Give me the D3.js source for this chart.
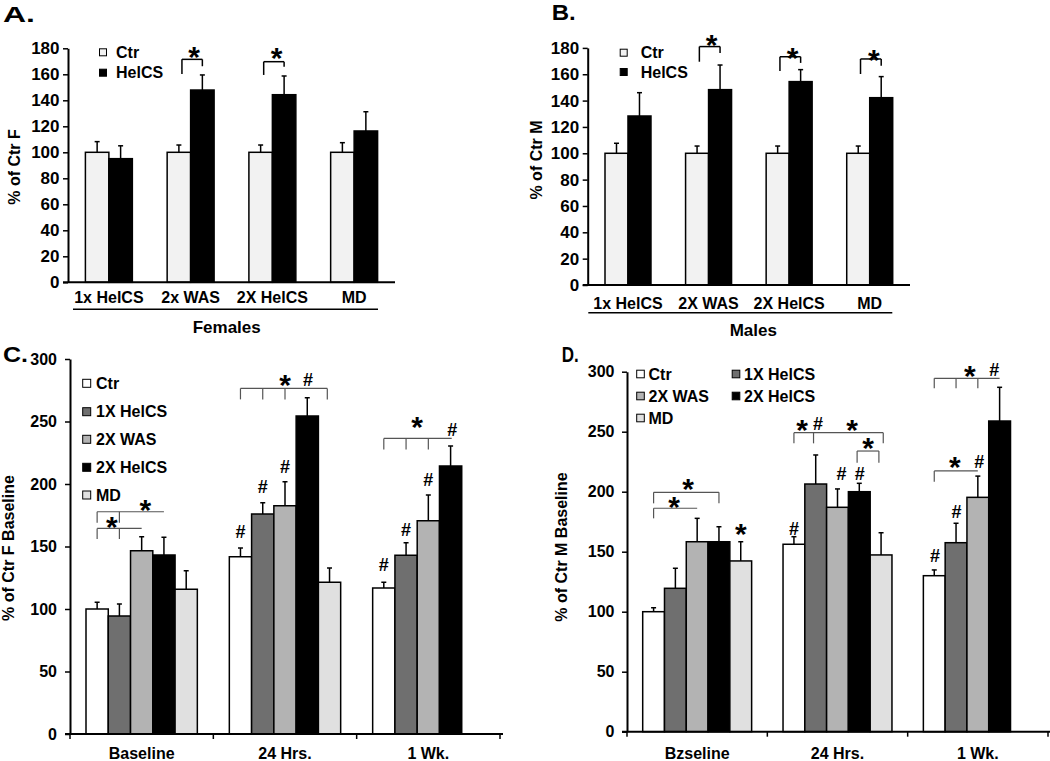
<!DOCTYPE html>
<html><head><meta charset="utf-8">
<script src="https://cdn.jsdelivr.net/npm/d3@7"></script>
<style>
body{margin:0;background:#fff}
text{font-family:"Liberation Sans",Arial,sans-serif;font-weight:bold;fill:#000}
</style>
</head><body>
<svg id="chart" width="1050" height="761"></svg>
<script>
// ---------------- DATA ----------------
// Panel A (Females) and B (Males)
const catsA = ["1x HelCS", "2x WAS", "2X HelCS", "MD"];
const catsB = ["1x HelCS", "2X WAS", "2X HelCS", "MD"];
const seriesAB = ["Ctr", "HelCS"];
const ticksAB = [0, 20, 40, 60, 80, 100, 120, 140, 160, 180];

const aCtr      = [100, 100, 100, 100];
const aCtrErr   = [8.2, 5.6, 5.6, 7.4];
const aHelCS    = [95.1, 147.9, 144.3, 116.4];
const aHelCSErr = [9.9, 11.6, 14.4, 14.8];

const bCtr      = [100, 100, 100, 100];
const bCtrErr   = [7.6, 5.5, 5.5, 5.5];
const bHelCS    = [128.3, 148.3, 154.4, 142.2];
const bHelCSErr = [17.7, 18.7, 9.1, 16.0];

// Panel C (Females, time course) and D (Males, time course)
const catsC = ["Baseline", "24 Hrs.", "1 Wk."];
const catsD = ["Bzseline", "24 Hrs.", "1 Wk."];
const seriesCD = ["Ctr", "1X HelCS", "2X WAS", "2X HelCS", "MD"];
const ticksCD = [0, 50, 100, 150, 200, 250, 300];

const cCtr      = [100, 141.8, 116.8];
const cCtrErr   = [5.4, 7.0, 4.6];
const c1X       = [94.4, 176.0, 143.0];
const c1XErr    = [9.6, 9.0, 10.0];
const c2WAS     = [146.6, 182.6, 170.6];
const c2WASErr  = [11.2, 19.2, 20.6];
const c2HelCS   = [143.2, 254.4, 214.4];
const c2HelCSErr= [14.2, 14.6, 16.0];
const cMD       = [115.8, 121.4, null];
const cMDErr    = [14.8, 11.4, null];

const dCtr      = [100, 156.2, 130.0];
const dCtrErr   = [3.3, 6.3, 4.8];
const d1X       = [119.5, 206.4, 157.5];
const d1XErr    = [16.7, 24.2, 16.2];
const d2WAS     = [158.3, 187.0, 195.3];
const d2WASErr  = [19.5, 15.3, 17.7];
const d2HelCS   = [158.3, 200.0, 258.9];
const d2HelCSErr= [12.5, 7.0, 28.1];
const dMD       = [142.3, 147.3, null];
const dMDErr    = [16.0, 18.5, null];

// Significance annotations (group index, series positions, values)
const bracketsA = [
  {g:1, from:0.13, to:1, y:171.5, legs:[[0.13,160.2],[1,166.2]]},
  {g:2, from:0.13, to:1, y:169.7, legs:[[0.13,159.5],[1,165.8]]}
];
const marksA = [{g:1,s:0.65,y:178.7,t:"*"},{g:2,s:0.68,y:177.4,t:"*"}];

const bracketsB = [
  {g:1, from:0.1, to:1, y:181.0, legs:[[0.1,169.5],[1,176.2]]},
  {g:2, from:0.1, to:1, y:173.3, legs:[[0.1,162.5],[1,168.6]]},
  {g:3, from:0.1, to:1, y:171.6, legs:[[0.1,160.2],[1,166.5]]}
];
const marksB = [{g:1,s:0.63,y:187.5,t:"*"},{g:2,s:0.65,y:177.8,t:"*"},{g:3,s:0.68,y:176.1,t:"*"}];

const bracketsC = [
  {g:0, from:0, to:3, y:177.8, legs:[[0,169],[1,169]]},
  {g:0, from:0, to:2, y:164.5, legs:[[0,156],[1,156]]},
  {g:1, from:0, to:3.9, y:276.5, legs:[[0,267.7],[1,267.7],[2,267.7],[3.9,267.7]]},
  {g:2, from:0, to:3.05, y:236.5, legs:[[0,227.7],[1,227.7],[2,227.7]]}
];
const marksC = [
  {g:0,s:0.66,y:171,t:"*"},{g:0,s:2.17,y:184.5,t:"*"},
  {g:1,s:2,y:284.6,t:"*"},{g:1,s:3.03,y:283.2,t:"#"},
  {g:1,s:0,y:161.8,t:"#"},{g:1,s:1,y:197.8,t:"#"},{g:1,s:2,y:213.8,t:"#"},
  {g:2,s:1.5,y:251,t:"*"},{g:2,s:3.08,y:243.2,t:"#"},
  {g:2,s:0,y:135.2,t:"#"},{g:2,s:1,y:163.2,t:"#"},{g:2,s:2,y:203.2,t:"#"}
];

const bracketsD = [
  {g:0, from:0, to:3, y:199.5, legs:[[0,190.3],[3,190.3]]},
  {g:0, from:0, to:2, y:186.2, legs:[[0,177.8]]},
  {g:1, from:0, to:4.1, y:249.2, legs:[[0,240.3],[0.9,240.3],[4.1,240.3]]},
  {g:1, from:2.9, to:3.9, y:233.9, legs:[[2.9,224.2],[3.9,224.2]]},
  {g:2, from:0, to:3, y:294.5, legs:[[0,286.2],[1,286.2],[2,286.2]]},
  {g:2, from:0, to:2, y:217.3, legs:[[0,208.3]]}
];
const marksD = [
  {g:0,s:1.58,y:208.3,t:"*"},{g:0,s:0.94,y:193.1,t:"*"},{g:0,s:4,y:170.8,t:"*"},
  {g:1,s:0.38,y:257,t:"*"},{g:1,s:1.11,y:257,t:"#"},{g:1,s:2.67,y:257,t:"*"},{g:1,s:3.4,y:241.7,t:"*"},
  {g:1,s:0,y:169.5,t:"#"},{g:1,s:2.18,y:215.3,t:"#"},{g:1,s:3.02,y:215.3,t:"#"},
  {g:2,s:1.63,y:302,t:"*"},{g:2,s:2.75,y:302,t:"#"},{g:2,s:0.94,y:226.4,t:"*"},{g:2,s:2.06,y:225,t:"#"},
  {g:2,s:0.03,y:147.2,t:"#"},{g:2,s:1.02,y:183.3,t:"#"}
];

// ---------------- LAYOUT / STYLE ----------------
const colorsAB = ["#f2f2f2", "#000000"];
const colorsCD = ["#ffffff", "#6f6f6f", "#b3b3b3", "#000000", "#e0e0e0"];

const svg = d3.select("#chart");

function drawPanel(cfg) {
  const g = svg.append("g");
  const y = d3.scaleLinear().domain([0, cfg.yMax]).range([cfg.y0, cfg.yTop]);
  const x0 = d3.scaleBand().domain(cfg.cats).range([cfg.xL, cfg.xR]);
  const x1 = d3.scaleBand().domain(cfg.series).range([cfg.pad, x0.bandwidth() - cfg.pad]);
  const w = x1.bandwidth();
  const xs = (gi, s) => x0(cfg.cats[gi]) + x1.range()[0] + (s + 0.5) * w;

  // bars
  cfg.series.forEach((sName, si) => {
    const vals = cfg.values[si], errs = cfg.errs[si];
    cfg.cats.forEach((c, ci) => {
      const v = vals[ci];
      if (v == null) return;
      const bx = x0(c) + x1(sName);
      g.append("rect").attr("x", bx).attr("y", y(v)).attr("width", w).attr("height", y(0) - y(v))
        .attr("fill", cfg.colors[si]).attr("stroke", "#000").attr("stroke-width", 1.5);
      const e = errs[ci];
      const cx = bx + w / 2;
      g.append("line").attr("x1", cx).attr("x2", cx).attr("y1", y(v)).attr("y2", y(v + e))
        .attr("stroke", "#000").attr("stroke-width", 1.5);
      g.append("line").attr("x1", cx - 2.5).attr("x2", cx + 2.5).attr("y1", y(v + e)).attr("y2", y(v + e))
        .attr("stroke", "#000").attr("stroke-width", 1.5);
    });
  });

  // y axis
  const ya = g.append("g").attr("transform", `translate(${cfg.xL},0)`)
    .call(d3.axisLeft(y).tickValues(cfg.ticks).tickSize(5).tickSizeOuter(0).tickPadding(cfg.tickPad));
  ya.select(".domain").attr("stroke-width", 2);
  ya.selectAll(".tick line").attr("stroke-width", 1.5);
  ya.selectAll("text").style("font-size", cfg.tickFont + "px").style("font-weight", "bold")
    .style("font-family", '"Liberation Sans",Arial,sans-serif').attr("fill", "#000");

  // x axis line
  g.append("line").attr("x1", cfg.xL - 5).attr("x2", cfg.xEnd).attr("y1", y(0)).attr("y2", y(0))
    .attr("stroke", "#000").attr("stroke-width", 2);
  if (cfg.xTicks) {
    const tx = cfg.cats.map(c => x0(c)).concat([x0.range()[1]]);
    tx.forEach(t => g.append("line").attr("x1", t).attr("x2", t).attr("y1", y(0)).attr("y2", y(0) + 5)
      .attr("stroke", "#000").attr("stroke-width", 1.5));
  }

  // category labels
  cfg.cats.forEach(c => {
    g.append("text").attr("x", x0(c) + x0.bandwidth() / 2).attr("y", cfg.catY)
      .attr("text-anchor", "middle").style("font-size", "16px").text(c);
  });

  // brackets
  cfg.brackets.forEach(b => {
    g.append("line").attr("x1", xs(b.g, b.from)).attr("x2", xs(b.g, b.to)).attr("y1", y(b.y)).attr("y2", y(b.y))
      .attr("stroke", cfg.bracketColor).attr("stroke-width", cfg.bracketWidth);
    b.legs.forEach(([s, dv]) => {
      g.append("line").attr("x1", xs(b.g, s)).attr("x2", xs(b.g, s)).attr("y1", y(b.y)).attr("y2", y(dv))
        .attr("stroke", cfg.bracketColor).attr("stroke-width", cfg.bracketWidth);
    });
  });
  // marks
  cfg.marks.forEach(m => {
    const isStar = m.t === "*";
    const fs = isStar ? cfg.starSize : cfg.hashSize;
    const off = isStar ? 0.56 * fs : 0.36 * fs;
    g.append("text").attr("x", xs(m.g, m.s)).attr("y", y(m.y) + off)
      .attr("text-anchor", "middle").style("font-size", fs + "px").text(m.t);
  });

  // legend
  cfg.legend.forEach(L => {
    g.append("rect").attr("x", L.x - cfg.sq / 2).attr("y", L.y - cfg.sq / 2).attr("width", cfg.sq).attr("height", cfg.sq)
      .attr("fill", cfg.colors[L.i]).attr("stroke", "#000").attr("stroke-width", 1);
    g.append("text").attr("x", L.x + cfg.legText).attr("y", L.y).attr("dy", "0.36em")
      .style("font-size", "16px").text(cfg.series[L.i]);
  });

  // y title
  g.append("text").attr("transform", `translate(${cfg.yTitle[0]},${cfg.yTitle[1]}) rotate(-90)`)
    .attr("text-anchor", "middle").attr("dy", "0.36em").style("font-size", "16px").text(cfg.yLabel);

  // panel letter
  g.append("text").attr("x", cfg.letterPos[0]).attr("y", cfg.letterPos[1])
    .attr("textLength", cfg.letterLen).attr("lengthAdjust", "spacingAndGlyphs")
    .style("font-size", "22px").text(cfg.letter);

  // group underline & title
  if (cfg.group) {
    g.append("line").attr("x1", cfg.group.x1).attr("x2", cfg.group.x2).attr("y1", cfg.group.ly).attr("y2", cfg.group.ly)
      .attr("stroke", "#000").attr("stroke-width", 1.5);
    g.append("text").attr("x", (cfg.group.tx)).attr("y", cfg.group.ty).attr("text-anchor", "middle")
      .style("font-size", "17px").text(cfg.group.label);
  }
}

drawPanel({
  cats: catsA, series: seriesAB, values: [aCtr, aHelCS], errs: [aCtrErr, aHelCSErr], colors: colorsAB,
  yMax: 180, y0: 282.3, yTop: 48.3, xL: 68, xR: 395, xEnd: 395, pad: 17.4, ticks: ticksAB, tickPad: 3.5, tickFont: 17,
  catY: 303, brackets: bracketsA, marks: marksA, bracketColor: "#000", bracketWidth: 1.5, starSize: 30, hashSize: 18,
  legend: [{i:0,x:103,y:52.3},{i:1,x:103,y:72.7}], sq: 7, legText: 13,
  yTitle: [14, 167], yLabel: "% of Ctr F", letter: "A.", letterPos: [3, 22], letterLen: 32,
  group: {x1: 73, x2: 378, ly: 309.3, tx: 226.7, ty: 332.5, label: "Females"}
});
drawPanel({
  cats: catsB, series: seriesAB, values: [bCtr, bHelCS], errs: [bCtrErr, bHelCSErr], colors: colorsAB,
  yMax: 180, y0: 285, yTop: 47.9, xL: 587.7, xR: 910, xEnd: 910, pad: 17.3, ticks: ticksAB, tickPad: 3.5, tickFont: 17,
  catY: 309, brackets: bracketsB, marks: marksB, bracketColor: "#000", bracketWidth: 1.5, starSize: 30, hashSize: 18,
  legend: [{i:0,x:623.7,y:52.7},{i:1,x:623.7,y:72}], sq: 7, legText: 17,
  yTitle: [535.8, 160], yLabel: "% of Ctr M", letter: "B.", letterPos: [551.7, 20], letterLen: 24,
  group: {x1: 588.3, x2: 892.3, ly: 312.7, tx: 753.3, ty: 336, label: "Males"}
});
drawPanel({
  cats: catsC, series: seriesCD, values: [cCtr, c1X, c2WAS, c2HelCS, cMD], errs: [cCtrErr, c1XErr, c2WASErr, c2HelCSErr, cMDErr],
  colors: colorsCD, yMax: 300, y0: 734, yTop: 359, xL: 70, xR: 500, xEnd: 503, pad: 16, ticks: ticksCD, tickPad: 8, tickFont: 16,
  xTicks: true, catY: 758.5, brackets: bracketsC, marks: marksC, bracketColor: "#555", bracketWidth: 1.2, starSize: 30, hashSize: 18,
  legend: [{i:0,x:86.7,y:383.3},{i:1,x:86.7,y:411.7},{i:2,x:86.7,y:439.3},{i:3,x:86.7,y:467.3},{i:4,x:86.7,y:495}], sq: 8, legText: 9.3,
  yTitle: [8, 548], yLabel: "% of Ctr F Baseline", letter: "C.", letterPos: [3, 362], letterLen: 25
});
drawPanel({
  cats: catsD, series: seriesCD, values: [dCtr, d1X, d2WAS, d2HelCS, dMD], errs: [dCtrErr, d1XErr, d2WASErr, d2HelCSErr, dMDErr],
  colors: colorsCD, yMax: 300, y0: 731.7, yTop: 371.7, xL: 627, xR: 1048, xEnd: 1050, pad: 15.7, ticks: ticksCD, tickPad: 7.5, tickFont: 16,
  xTicks: true, catY: 758.5, brackets: bracketsD, marks: marksD, bracketColor: "#555", bracketWidth: 1.2, starSize: 30, hashSize: 18,
  legend: [{i:0,x:640.5,y:374},{i:1,x:736,y:374},{i:2,x:640.5,y:396},{i:3,x:736,y:396},{i:4,x:640.5,y:418}], sq: 7.6, legText: 8,
  yTitle: [561.7, 547], yLabel: "% of Ctr M Baseline", letter: "D.", letterPos: [561.7, 361.7], letterLen: 17
});
</script>
</body></html>
